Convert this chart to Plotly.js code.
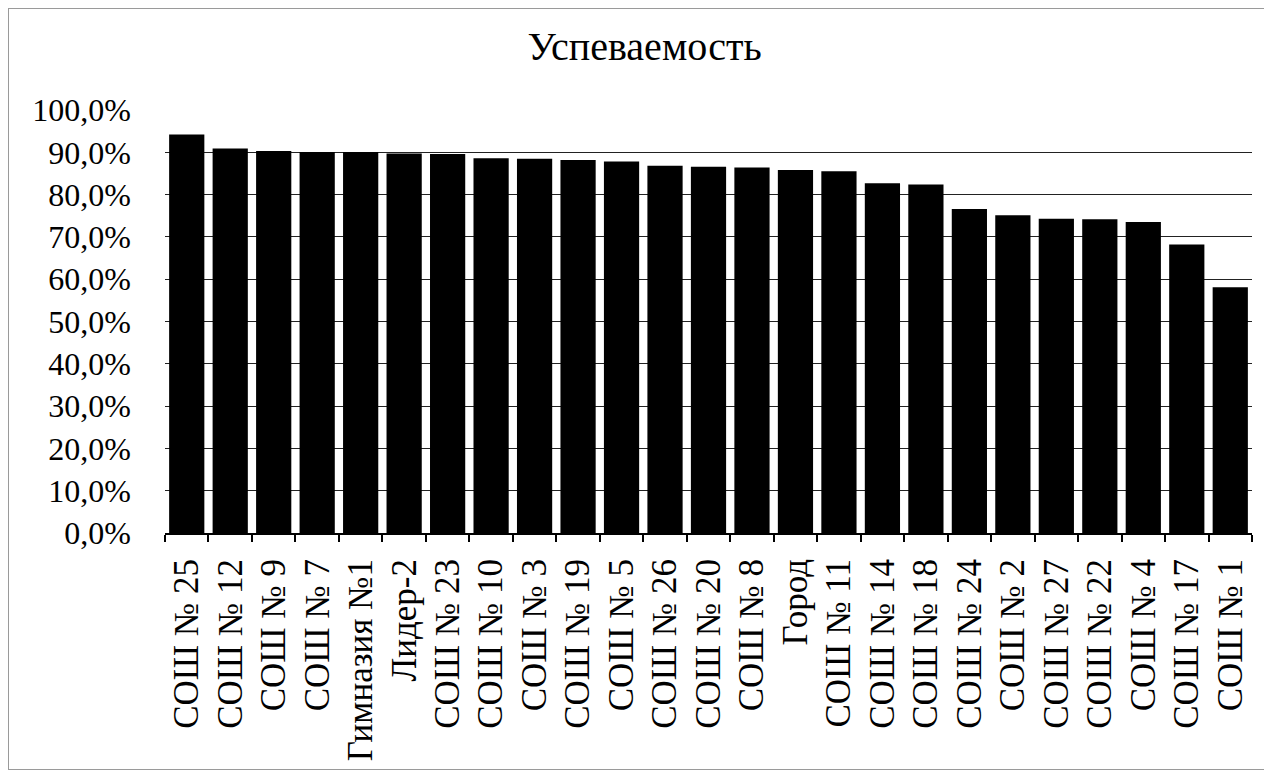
<!DOCTYPE html>
<html>
<head>
<meta charset="utf-8">
<script src="https://cdn.plot.ly/plotly-3.0.1.min.js"></script>
<style>
  html, body { margin: 0; padding: 0; background: #fff; }
  #chart { width: 1264px; height: 774px; }
  #frame { position: absolute; left: 8px; top: 8px; width: 1262px; height: 762px;
           border: 1px solid #9a9a9a; pointer-events: none; box-sizing: border-box; }
</style>
</head>
<body>
<div id="chart"></div>
<div id="frame"></div>
<script>
const chartTitle = "Успеваемость";
const schools = [
  "СОШ № 25", "СОШ № 12", "СОШ № 9", "СОШ № 7", "Гимназия №1", "Лидер-2",
  "СОШ № 23", "СОШ № 10", "СОШ № 3", "СОШ № 19", "СОШ № 5", "СОШ № 26",
  "СОШ № 20", "СОШ № 8", "Город", "СОШ № 11", "СОШ № 14", "СОШ № 18",
  "СОШ № 24", "СОШ № 2", "СОШ № 27", "СОШ № 22", "СОШ № 4", "СОШ № 17", "СОШ № 1"
];
const successRate = [
  94.2, 90.9, 90.3, 90.1, 90.1, 89.7,
  89.6, 88.6, 88.5, 88.2, 87.8, 86.8,
  86.6, 86.4, 85.8, 85.5, 82.7, 82.4,
  76.6, 75.1, 74.3, 74.2, 73.5, 68.2, 58.1
];

const serif = "'Liberation Serif', 'Times New Roman', serif";

const trace = {
  type: "bar",
  x: schools,
  y: successRate,
  marker: { color: "#000000", line: { width: 0 } },
  hoverinfo: "x+y"
};

const layout = {
  width: 1264,
  height: 774,
  paper_bgcolor: "#ffffff",
  plot_bgcolor: "#ffffff",
  margin: { l: 165, r: 12, t: 110, b: 241 },
  separators: ", ",
  showlegend: false,
  bargap: 0.19,
  title: {
    text: chartTitle,
    font: { family: serif, size: 40, color: "#000" },
    xref: "container", x: 0.51, xanchor: "center",
    yref: "container", y: 0.94, yanchor: "middle"
  },
  xaxis: {
    type: "category",
    tickangle: -90,
    tickfont: { family: serif, size: 35, color: "#000" },
    showline: true, linecolor: "#000", linewidth: 2,
    ticks: "outside", tickson: "boundaries", ticklen: 7, tickwidth: 2, tickcolor: "#000",
    ticklabelstandoff: 10,
    showgrid: false,
    automargin: false
  },
  yaxis: {
    range: [0, 100],
    dtick: 10,
    tick0: 0,
    tickformat: ".1f",
    ticksuffix: "%",
    tickfont: { family: serif, size: 32, color: "#000" },
    showgrid: true, gridcolor: "#222", gridwidth: 1,
    zeroline: false,
    showline: false,
    ticks: "",
    ticklabelstandoff: 33,
    automargin: false
  }
};

Plotly.newPlot("chart", [trace], layout, { displayModeBar: false, staticPlot: true });
</script>
</body>
</html>
